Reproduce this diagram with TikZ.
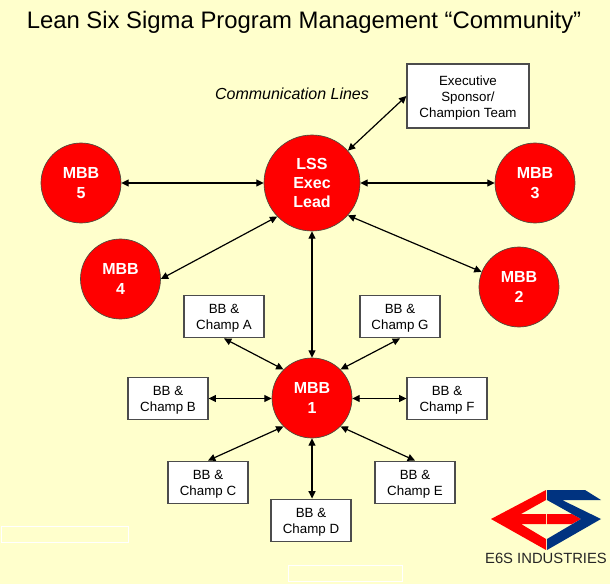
\documentclass[tikz,border=0pt]{standalone}
\usepackage{fontspec}
\setmainfont{Liberation Sans}
\usetikzlibrary{arrows.meta}
\definecolor{bgy}{RGB}{255,255,204}
\definecolor{logoblue}{RGB}{0,51,128}
\newcommand{\dn}{\rule{0pt}{10pt}}
\tikzset{x=0.75pt,y=-0.75pt,
 hub/.style={circle,draw=black!70!bgy,line width=0.5pt,fill=red,text=white,inner sep=0pt,font=\bfseries\fontsize{12}{14.5}\selectfont,align=center},
 box/.style={draw=black!70,line width=0.9pt,fill=white,inner sep=0pt,minimum width=60pt,minimum height=32pt,font=\fontsize{10}{12}\selectfont,align=center},
 link/.style={{Triangle[length=5.5pt,width=5.2pt]}-{Triangle[length=5.5pt,width=5.2pt]},line width=0.9pt},
 ghost/.style={draw=white,line width=0.75pt}}
\begin{document}
\begin{tikzpicture}
\useasboundingbox (0,0) rectangle (610,584);
\fill[bgy] (0,0) rectangle (610,584);
\draw[ghost] (1,526) rectangle (128,542);
\draw[ghost] (288,565) rectangle (402,581);
\node[font=\fontsize{17.9}{21}\selectfont] (title) at (304,22) {Lean Six Sigma Program Management “Community”};
\node[font=\itshape\fontsize{12}{14}\selectfont] (cl) at (292,94) {Communication Lines};
\node[hub,minimum size=72pt] (lead) at (312,183) {LSS\\Exec\\Lead};
\node[hub,minimum size=60pt] (m5) at (81,183) {MBB\\5};
\node[hub,minimum size=60pt] (m3) at (535,183) {MBB\\3};
\node[hub,minimum size=60pt] (m4) at (120.5,279) {MBB\\4};
\node[hub,minimum size=60pt] (m2) at (519,287) {MBB\\2};
\node[hub,minimum size=60pt] (m1) at (312,398) {MBB\\1};
\node[box,minimum width=91.5pt,minimum height=48pt] (ex) at (468,96) {\dn Executive\\Sponsor/\\Champion Team};
\node[box] (a) at (224,316.5) {\dn BB \&\\Champ A};
\node[box] (g) at (400,316.5) {\dn BB \&\\Champ G};
\node[box] (b) at (168,398.5) {\dn BB \&\\Champ B};
\node[box] (f) at (447,398.5) {\dn BB \&\\Champ F};
\node[box] (c) at (208,482.5) {\dn BB \&\\Champ C};
\node[box] (e) at (415,482.5) {\dn BB \&\\Champ E};
\node[box] (d) at (311,520.5) {\dn BB \&\\Champ D};
\draw[link] (lead) -- (m5);
\draw[link] (lead) -- (m3);
\draw[link] (lead.-136) -- (m4.east);
\draw[link] (lead.-42) -- (m2.158);
\draw[link] (lead) -- (m1);
\draw[link] (lead.42) -- (ex.west);
\draw[link] (a.south) -- (m1.135);
\draw[link] (g.south) -- (m1.45);
\draw[link] (b.east) -- (b.east -| m1.west);
\draw[link] (f.west) -- (f.west -| m1.east);
\draw[link] (c.north) -- (m1.-135);
\draw[link] (e.north) -- (m1.-45);
\draw[link] (d.north -| m1.south) -- (m1.south);
\fill[red] (491,519) -- (546,490) -- (546,500) -- (521,514) -- (546,514) -- (546,524) -- (521,524) -- (546,539) -- (546,550) -- cycle;
\fill[red] (547,514) -- (572,514) -- (581,519) -- (572,524) -- (547,524) -- cycle;
\fill[logoblue] (547,490) -- (585,490) -- (601,500) -- (562,500) -- (601,519) -- (547,550) -- (547,539) -- (581,519) -- (547,500) -- cycle;
\node[font=\fontsize{11.1}{13}\selectfont,inner sep=0pt,text=black!85] (brand) at (546,558) {E6S INDUSTRIES};
\end{tikzpicture}
\end{document}
